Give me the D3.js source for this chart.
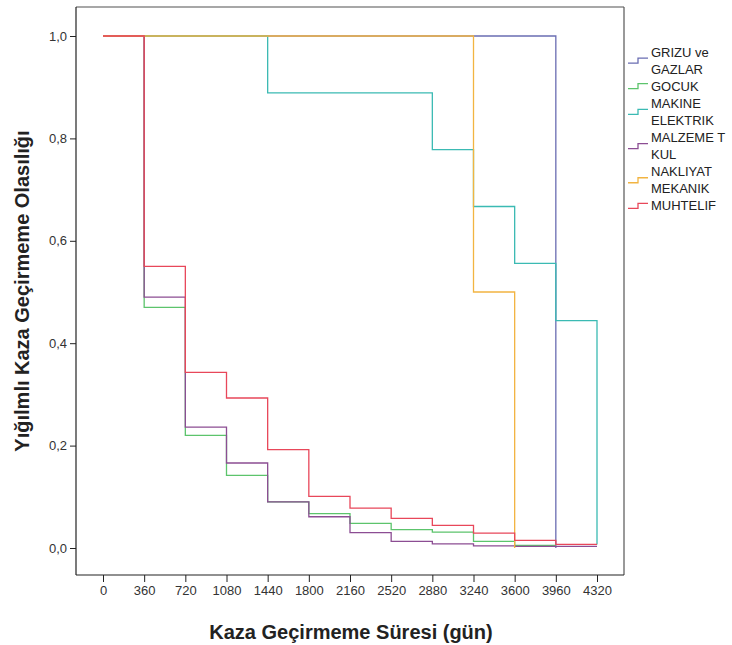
<!DOCTYPE html>
<html>
<head>
<meta charset="utf-8">
<script src="https://cdn.jsdelivr.net/npm/d3@7"></script>
<style>
  body { margin: 0; background: #fff; }
  svg { display: block; font-family: "Liberation Sans", Arial, sans-serif; }
</style>
</head>
<body>
<svg id="chart" width="732" height="645"></svg>
<script>
// ---- data ----
const times = [0, 360, 720, 1080, 1440, 1800, 2160, 2520, 2880, 3240, 3600, 3960, 4320];
const xTickLabels = [0, 360, 720, 1080, 1440, 1800, 2160, 2520, 2880, 3240, 3600, 3960, 4320];
const yTickLabels = [0, 0.2, 0.4, 0.6, 0.8, 1.0];

const grizu    = [1, 1, 1, 1, 1, 1, 1, 1, 1, 1, 1, 0, null];
const gocuk    = [1, 0.47, 0.22, 0.142, 0.09, 0.067, 0.048, 0.036, 0.031, 0.013, 0.005, 0.005, null];
const makine   = [1, 1, 1, 1, 0.889, 0.889, 0.889, 0.889, 0.778, 0.667, 0.556, 0.444, 0.007];
const malzeme  = [1, 0.49, 0.236, 0.166, 0.09, 0.061, 0.030, 0.013, 0.008, 0.004, 0.003, 0.003, 0.003];
const nakliyat = [1, 1, 1, 1, 1, 1, 1, 1, 1, 0.5, 0, null, null];
const muhtelif = [1, 0.55, 0.343, 0.293, 0.192, 0.101, 0.078, 0.058, 0.044, 0.029, 0.015, 0.007, 0.007];

const seriesNames = [["GRIZU ve", "GAZLAR"], ["GOCUK"], ["MAKINE", "ELEKTRIK"], ["MALZEME T", "KUL"], ["NAKLIYAT", "MEKANIK"], ["MUHTELIF"]];
const seriesValues = [grizu, gocuk, makine, malzeme, nakliyat, muhtelif];
const seriesColors = ["#6a6db2", "#5cc46c", "#3bbab3", "#8c4d93", "#f2b441", "#e8475a"];

// ---- layout ----
const svg = d3.select("#chart");
const frame = { left: 76, top: 7, right: 624, bottom: 575 };
const x = d3.scaleLinear().domain([0, 4320]).range([103, 597]);
const y = d3.scaleLinear().domain([0, 1]).range([548, 36]);

// frame
svg.append("line").attr("x1", frame.left).attr("x2", frame.right).attr("y1", frame.top).attr("y2", frame.top)
  .attr("stroke", "#8a8a8a").attr("stroke-width", 1.5);
svg.append("line").attr("x1", frame.right).attr("x2", frame.right).attr("y1", frame.top).attr("y2", frame.bottom)
  .attr("stroke", "#555").attr("stroke-width", 1.2);
svg.append("line").attr("x1", frame.left).attr("x2", frame.left).attr("y1", frame.top).attr("y2", frame.bottom)
  .attr("stroke", "#222").attr("stroke-width", 1.2);
svg.append("line").attr("x1", frame.left).attr("x2", frame.right).attr("y1", frame.bottom).attr("y2", frame.bottom)
  .attr("stroke", "#222").attr("stroke-width", 1.2);

// axes
const fmt = d => d3.format(".1f")(d).replace(".", ",");
const yAxis = svg.append("g").attr("transform", `translate(${frame.left},0)`)
  .call(d3.axisLeft(y).tickValues(yTickLabels).tickFormat(fmt).tickSize(6).tickPadding(3));
const xAxis = svg.append("g").attr("transform", `translate(0,${frame.bottom})`)
  .call(d3.axisBottom(x).tickValues(xTickLabels).tickFormat(d3.format("d")).tickSize(7).tickPadding(4));
[yAxis, xAxis].forEach(a => {
  a.select(".domain").remove();
  a.selectAll(".tick line").attr("stroke", "#222");
  a.selectAll(".tick text").attr("fill", "#333").style("font-size", "13px")
    .style("font-family", "'Liberation Sans', Arial, sans-serif");
});

// step lines
const line = d3.line()
  .x(d => x(d[0])).y(d => y(d[1]))
  .curve(d3.curveStepAfter);

seriesValues.forEach((vals, i) => {
  const pts = times.map((t, j) => [t, vals[j]]).filter(d => d[1] !== null);
  svg.append("path")
    .attr("d", line(pts))
    .attr("fill", "none")
    .attr("stroke", seriesColors[i])
    .attr("stroke-width", 1.3);
});

// axis titles
svg.append("text")
  .attr("x", 351).attr("y", 639)
  .attr("text-anchor", "middle")
  .style("font-size", "20px").style("font-weight", "bold").attr("fill", "#222")
  .text("Kaza Geçirmeme Süresi (gün)");
svg.append("text")
  .attr("transform", "translate(29,291) rotate(-90)")
  .attr("text-anchor", "middle")
  .style("font-size", "20px").style("font-weight", "bold").attr("fill", "#222")
  .text("Yığılmlı Kaza Geçirmeme Olasılığı");

// legend
const lg = svg.append("g");
let row = 0;
const rowH = 17.1, y0 = 52;
seriesNames.forEach((lines, i) => {
  const top = y0 + row * rowH;
  const cy = top + (lines.length - 1) * rowH / 2;
  lg.append("path")
    .attr("d", `M628,${cy + 2.5}H638V${cy - 2.5}H648`)
    .attr("fill", "none").attr("stroke", seriesColors[i]).attr("stroke-width", 1.3);
  lines.forEach((t, k) => {
    lg.append("text")
      .attr("x", 651).attr("y", top + k * rowH)
      .attr("dy", "0.35em")
      .style("font-size", "13px").attr("fill", "#222")
      .text(t);
  });
  row += lines.length;
});
</script>
</body>
</html>
